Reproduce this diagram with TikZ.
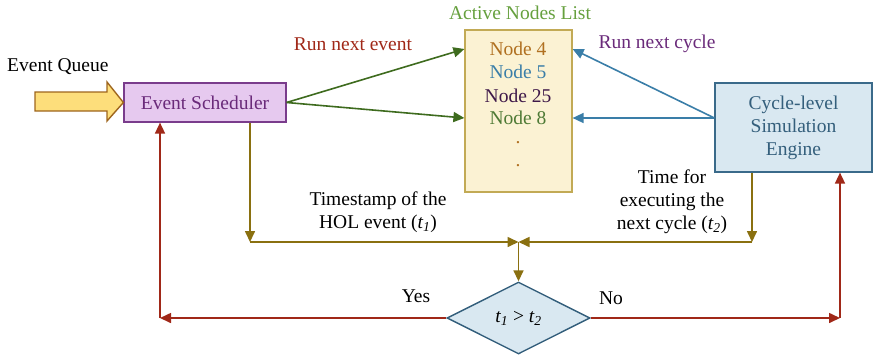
\documentclass[tikz,border=0pt]{standalone}
\usepackage{fontspec}
\setmainfont{Liberation Serif}
\usetikzlibrary{arrows.meta,positioning,shapes.geometric}
\definecolor{Plum}{HTML}{7A3C8C}
\definecolor{Lilac}{HTML}{E6C9EF}
\definecolor{Cream}{HTML}{FBF2D3}
\definecolor{Sand}{HTML}{C2AA55}
\definecolor{Sky}{HTML}{D9E8F1}
\definecolor{Steel}{HTML}{3A6A8A}
\definecolor{Leaf}{HTML}{3E6B1E}
\definecolor{Moss}{HTML}{4E7A35}
\definecolor{Fern}{HTML}{66A03E}
\definecolor{Ocean}{HTML}{3A7EA8}
\definecolor{Ochre}{HTML}{8A7010}
\definecolor{Rust}{HTML}{A02818}
\definecolor{Amber}{HTML}{B07020}
\definecolor{Grape}{HTML}{6A2A7A}
\newcommand{\tsub}[1]{\textit{t\textsubscript{#1}}}

\begin{document}
\begin{tikzpicture}[x=1pt,y=1pt,font=\fontsize{19.5}{23}\selectfont,
  box/.style={draw,line width=1.2pt,inner sep=0pt,align=center},
  lab/.style={align=center,inner sep=0pt},
  arr/.style={-{Triangle[length=11pt,width=10pt]},line width=1.6pt}]
\useasboundingbox (0,0) rectangle (873,-354);
% boxes
\node[box,draw=Plum,fill=Lilac,text=Grape,minimum width=162pt,minimum height=39pt] (sched) at (205,-102.5) {Event Scheduler};
\node[box,draw=Sand,fill=Cream,minimum width=107pt,minimum height=162pt] (list) at (518.5,-111) {};
\node[box,draw=Steel,fill=Sky,text=Steel!90!black,minimum width=157pt,minimum height=89pt] (engine) at (793.5,-127.5) {Cycle-level\\Simulation\\Engine};
\node[diamond,draw=Steel!90!black,fill=Sky,line width=1.4pt,minimum width=143pt,minimum height=72pt,inner sep=0pt] (test) at (518.5,-318) {\tsub{1} > \tsub{2}};
% list entries
\node[lab,text=Fern] (title) at (520,-13) {Active Nodes List};
\node[lab,text=Amber] (n4) at (518,-49) {Node 4};
\node[lab,text=Ocean] (n5) at (518,-72) {Node 5};
\node[lab,text=Grape!60!black] (n25) at (518,-96) {Node 25};
\node[lab,text=Moss] (n8) at (518,-118) {Node 8};
\node[lab,text=Amber] (d1) at (518,-143) {.};
\node[lab,text=Amber] (d2) at (518,-166) {.};
% event queue
\node[lab,anchor=west] (queue) at (7,-67) {Event Queue};
\draw[draw=Amber!90!black,fill=yellow!55!orange!50!white,line width=1.4pt]
  (35,-92) -- (107,-92) -- (107,-82) -- (sched.west) -- (107,-121) -- (107,-111) -- (35,-111) -- cycle;
% run arrows
\draw[arr,Leaf] (sched.east) -- (list.west |- n4);
\draw[arr,Leaf] (sched.east) -- (list.west |- n8);
\node[lab,text=Rust] (runev) at (353,-44) {Run next event};
\coordinate (ew) at (engine.west |- n8);
\draw[arr,Ocean] (ew) -- (list.east |- n4);
\draw[arr,Ocean] (ew) -- (list.east |- n8);
\node[lab,text=Grape] (runcy) at (657,-44) {Run next cycle};
% timestamps
\coordinate (jl) at (250,-242);
\coordinate (jr) at (752,-242);
\coordinate (join) at (test.north |- jl);
\draw[arr,Ochre] (sched.south -| jl) -- (jl);
\draw[arr,Ochre] (jl) -- (join);
\draw[arr,Ochre] (engine.south -| jr) -- (jr);
\draw[arr,Ochre] (jr) -- (join);
\draw[arr,Ochre] (join) -- (test.north);
\node[lab] (hol) at (378,-212) {Timestamp of the\\HOL event (\tsub{1})};
\node[lab] (cyc) at (672,-202) {Time for\\executing the\\next cycle (\tsub{2})};
% decision
\coordinate (yl) at (160,-318);
\coordinate (nr) at (840,-318);
\draw[arr,Rust] (test.west) -- (yl);
\draw[arr,Rust] (yl) -- (sched.south -| yl);
\draw[arr,Rust] (test.east) -- (nr);
\draw[arr,Rust] (nr) -- (engine.south -| nr);
\node[lab] (yes) at (416,-296) {Yes};
\node[lab] (no) at (611,-298) {No};
\end{tikzpicture}
\end{document}
